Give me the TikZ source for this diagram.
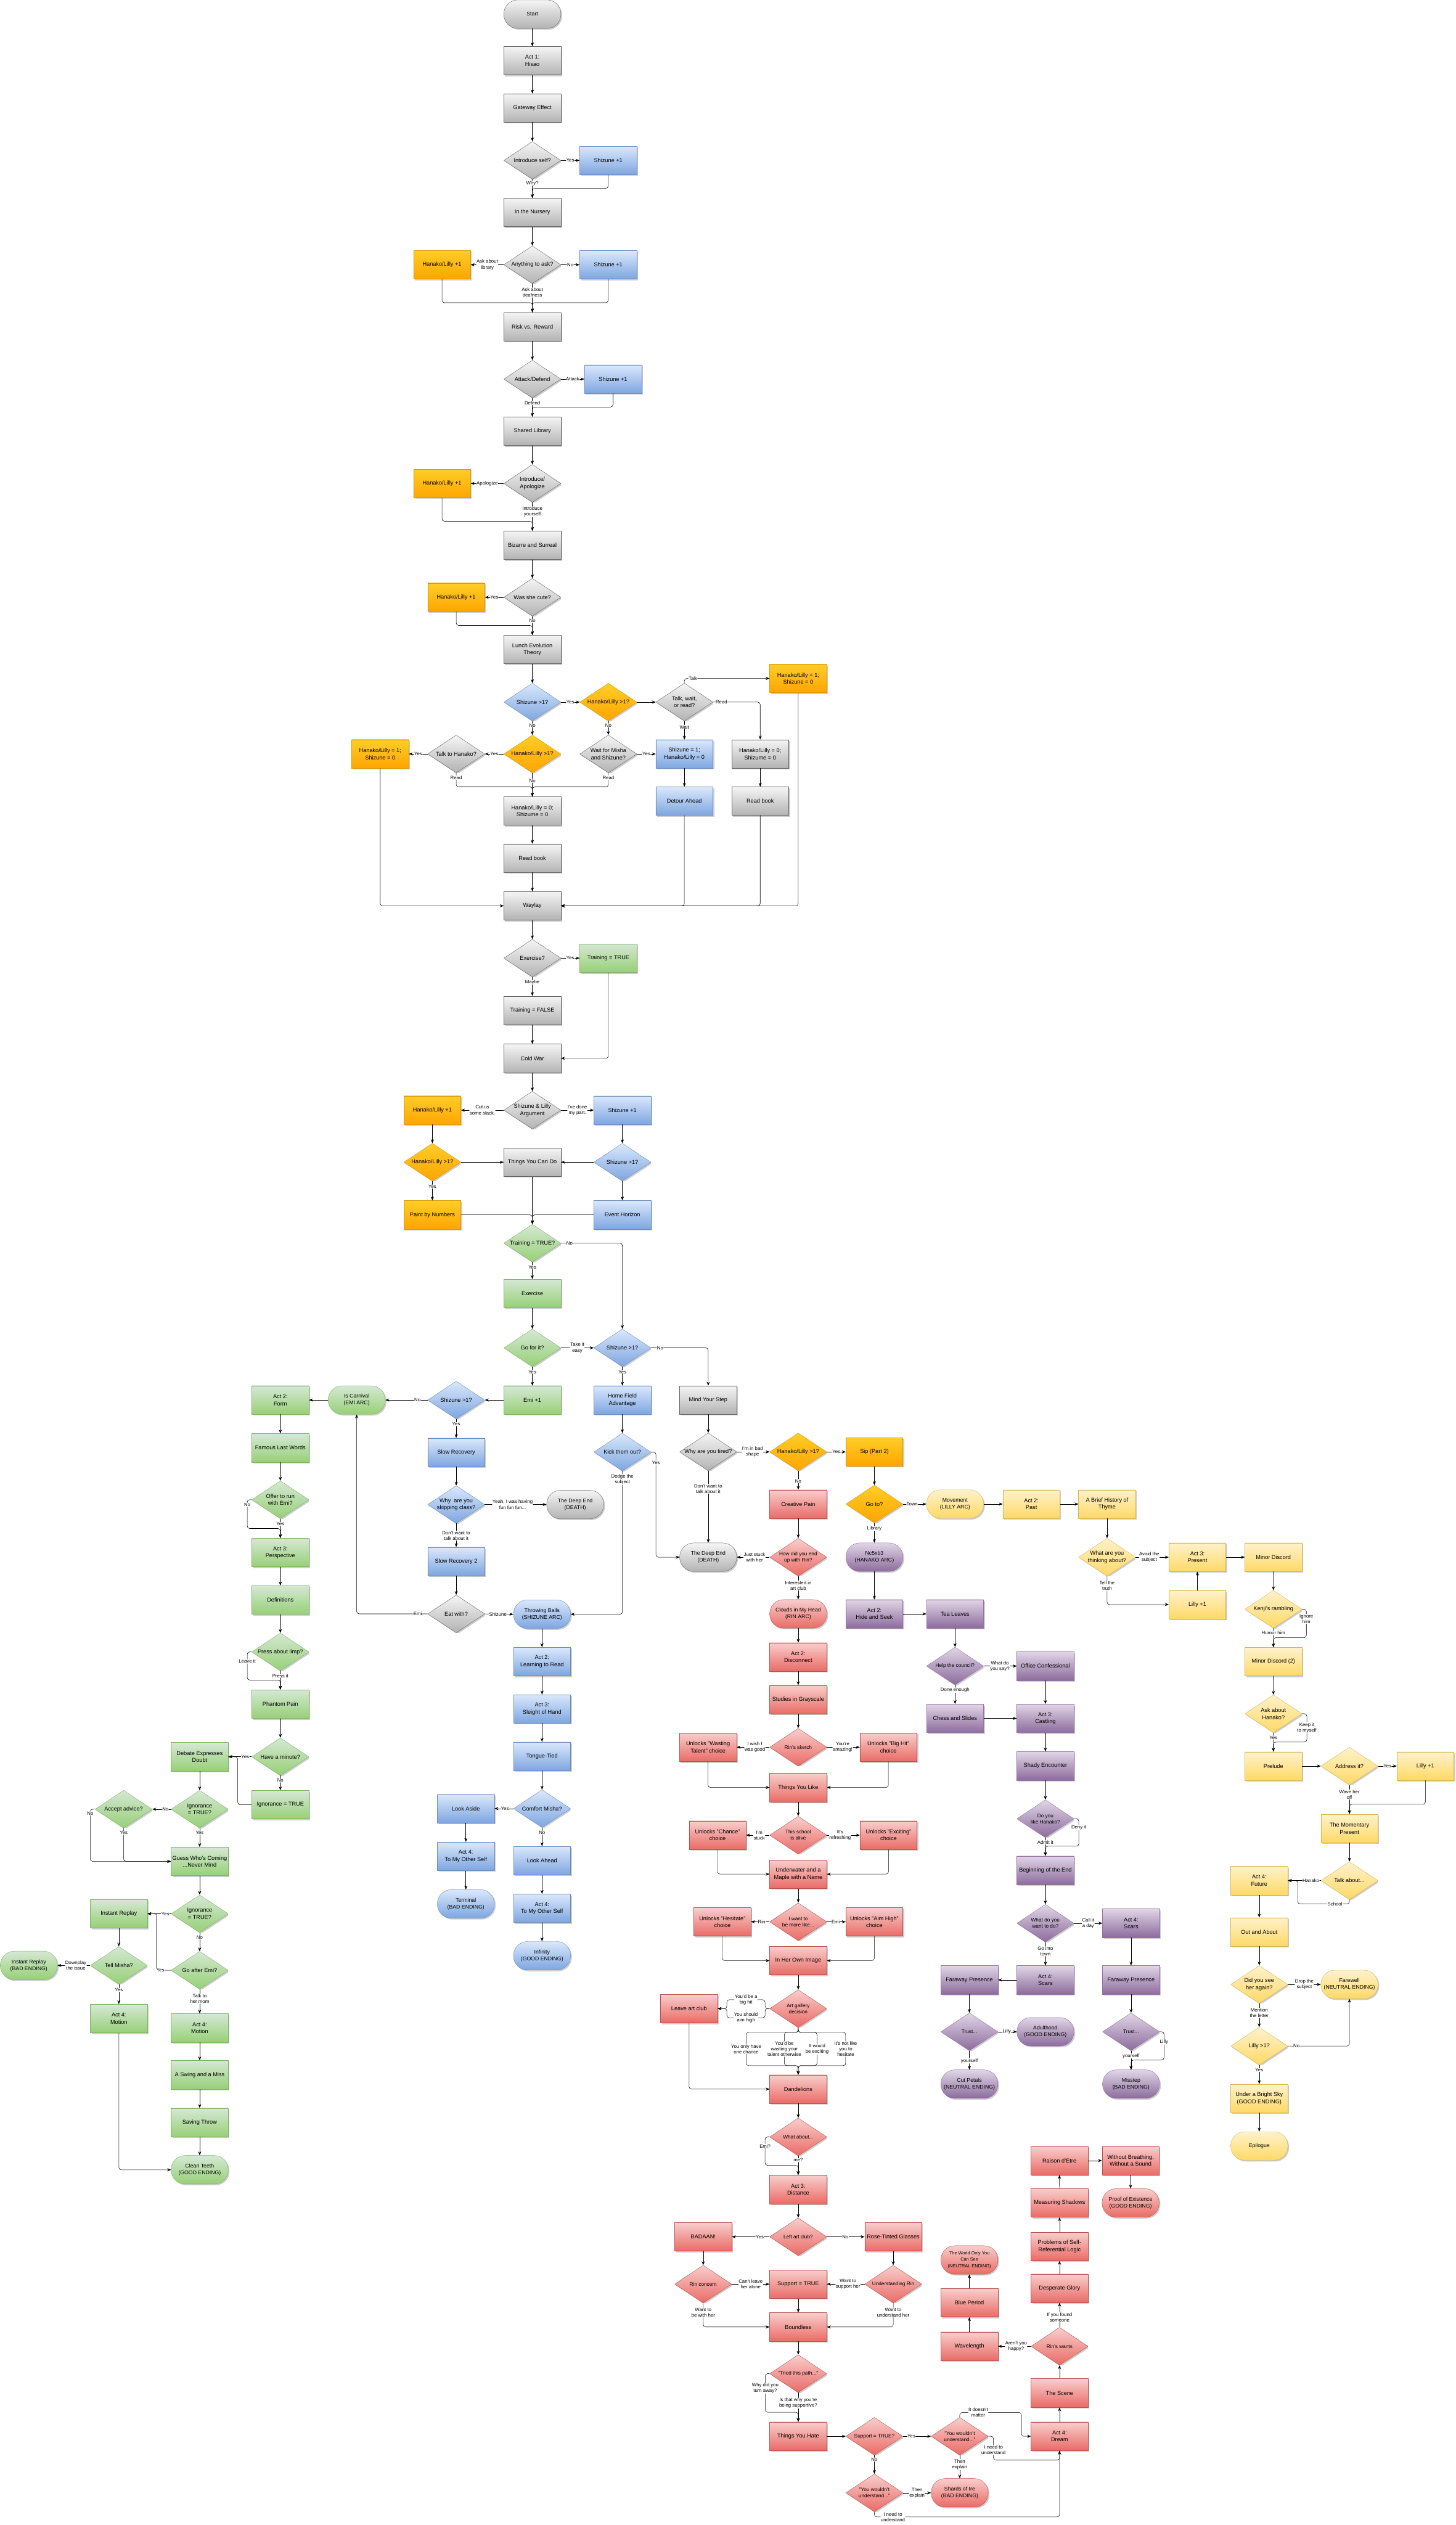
\documentclass[tikz,border=0pt]{standalone}
\usepackage{fontspec}
\setmainfont{Liberation Sans}
\usetikzlibrary{arrows.meta,shadows}
\definecolor{grayA}{HTML}{F5F5F5}\definecolor{grayB}{HTML}{B3B3B3}\definecolor{grayD}{HTML}{666666}
\definecolor{blueA}{HTML}{DAE8FC}\definecolor{blueB}{HTML}{7EA6E0}\definecolor{blueD}{HTML}{6C8EBF}
\definecolor{greenA}{HTML}{D5E8D4}\definecolor{greenB}{HTML}{97D077}\definecolor{greenD}{HTML}{82B366}
\definecolor{orangeA}{HTML}{FFCD28}\definecolor{orangeB}{HTML}{FFA500}\definecolor{orangeD}{HTML}{D79B00}
\definecolor{yelA}{HTML}{FFF2CC}\definecolor{yelB}{HTML}{FFD966}\definecolor{yelD}{HTML}{D6B656}
\definecolor{redA}{HTML}{F8CECC}\definecolor{redB}{HTML}{EA6B66}\definecolor{redD}{HTML}{B85450}
\definecolor{purA}{HTML}{E1D5E7}\definecolor{purB}{HTML}{8C6C9C}\definecolor{purD}{HTML}{9673A6}
\newcommand{\decshape}[3]{%
  \fill[black!20] ([shift={(0.8mm,-0.8mm)}]path picture bounding box.north) -- ([shift={(0.8mm,-0.8mm)}]path picture bounding box.east) -- ([shift={(0.8mm,-0.8mm)}]path picture bounding box.south) -- ([shift={(0.8mm,-0.8mm)}]path picture bounding box.west) -- cycle;
  \shade[top color=#1, bottom color=#2, draw=#3, line width=0.5pt] (path picture bounding box.north) -- (path picture bounding box.east) -- (path picture bounding box.south) -- (path picture bounding box.west) -- cycle;}

\begin{document}
\begin{tikzpicture}[
  x=1mm, y=-1mm,
  font=\fontsize{10}{12.5}\selectfont,
  block/.style={rectangle, minimum width=35.4mm, minimum height=17.7mm, inner sep=1pt, align=center, line width=0.5pt, drop shadow={shadow xshift=0.8mm, shadow yshift=-0.8mm, fill=black!20, opacity=1}},
  capsule/.style={block, rounded corners=8.6mm, inner sep=0.5pt, font=\fontsize{9.5}{12}\selectfont},
  decision/.style n args={3}{rectangle, minimum width=35.4mm, minimum height=23.4mm, inner sep=0pt, align=center, path picture={\decshape{#1}{#2}{#3}}},
  grayblock/.style={block, top color=grayA, bottom color=grayB, draw=grayD},
  blueblock/.style={block, top color=blueA, bottom color=blueB, draw=blueD},
  greenblock/.style={block, top color=greenA, bottom color=greenB, draw=greenD},
  orangeblock/.style={block, top color=orangeA, bottom color=orangeB, draw=orangeD},
  yellowblock/.style={block, top color=yelA, bottom color=yelB, draw=yelD},
  redblock/.style={block, top color=redA, bottom color=redB, draw=redD},
  purpleblock/.style={block, top color=purA, bottom color=purB, draw=purD},
  graycap/.style={capsule, top color=grayA, bottom color=grayB, draw=grayD},
  bluecap/.style={capsule, top color=blueA, bottom color=blueB, draw=blueD},
  greencap/.style={capsule, top color=greenA, bottom color=greenB, draw=greenD},
  yellowcap/.style={capsule, top color=yelA, bottom color=yelB, draw=yelD},
  redcap/.style={capsule, top color=redA, bottom color=redB, draw=redD},
  purplecap/.style={capsule, top color=purA, bottom color=purB, draw=purD},
  graydec/.style={decision={grayA}{grayB}{grayD}},
  bluedec/.style={decision={blueA}{blueB}{blueD}},
  greendec/.style={decision={greenA}{greenB}{greenD}},
  orangedec/.style={decision={orangeA}{orangeB}{orangeD}},
  yellowdec/.style={decision={yelA}{yelB}{yelD}},
  reddec/.style={decision={redA}{redB}{redD}, font=\fontsize{9}{11}\selectfont},
  purpledec/.style={decision={purA}{purB}{purD}, font=\fontsize{9}{11}\selectfont},
  arrow/.style={-{Stealth[length=2.4mm, width=1.9mm]}, line width=0.6pt, rounded corners=1.5mm},
  lbl/.style={fill=white, inner sep=0.5pt, font=\fontsize{8.5}{10}\selectfont, align=center},
]
\useasboundingbox (0,0) rectangle (904,1568);

\node[graycap] (c-start) at (330.6,8.8) {Start};
\node[grayblock] (c-act1) at (330.6,37.7) {Act 1:\\Hisao};
\node[grayblock] (c-gate) at (330.6,67) {Gateway Effect};
\node[graydec] (c-introq) at (330.6,99.6) {Introduce self?};
\node[blueblock] (c-shz1) at (377.7,99.6) {Shizune +1};
\node[grayblock] (c-nursery) at (330.6,131.9) {In the Nursery};
\node[graydec] (c-askq) at (330.6,164.4) {Anything to ask?};
\node[orangeblock] (c-hl1) at (274.5,164.4) {Hanako/Lilly +1};
\node[blueblock] (c-shz2) at (377.7,164.4) {Shizune +1};
\node[grayblock] (c-risk) at (330.6,202.9) {Risk vs. Reward};
\node[graydec] (c-attq) at (330.6,235.4) {Attack/Defend};
\node[blueblock] (c-shz3) at (380.7,235.4) {Shizune +1};
\node[grayblock] (c-library) at (330.6,267.7) {Shared Library};
\node[graydec] (c-apolq) at (330.6,300.2) {Introduce/\\Apologize};
\node[orangeblock] (c-hl2) at (274.5,300.2) {Hanako/Lilly +1};
\node[grayblock] (c-bizarre) at (330.6,338.6) {Bizarre and Surreal};
\node[graydec] (c-cuteq) at (330.6,370.9) {Was she cute?};
\node[orangeblock] (c-hl3) at (283.3,370.9) {Hanako/Lilly +1};
\node[grayblock] (c-lunch) at (330.6,403.3) {Lunch Evolution\\Theory};
\node[bluedec] (c-shzq1) at (330.6,436) {Shizune >1?};
\node[orangedec] (c-hlq1) at (377.8,436) {Hanako/Lilly >1?};
\node[graydec] (c-twrq) at (425,436) {Talk, wait,\\or read?};
\node[orangeblock] (c-hlset1) at (495.7,421.3) {Hanako/Lilly = 1;\\Shizune = 0};
\node[orangeblock] (c-hlset2) at (236.1,468.2) {Hanako/Lilly = 1;\\Shizune = 0};
\node[graydec] (c-talkq) at (283.3,468.2) {Talk to Hanako?};
\node[orangedec] (c-hlq2) at (330.6,468.2) {Hanako/Lilly >1?};
\node[graydec] (c-waitq) at (377.8,468.2) {Wait for Misha\\and Shizune?};
\node[blueblock] (c-shzset) at (425,468.2) {Shizune = 1;\\Hanako/Lilly = 0};
\node[grayblock] (c-zero1) at (472.1,468.2) {Hanako/Lilly = 0;\\Shizume = 0};
\node[blueblock] (c-detour) at (425,497.5) {Detour Ahead};
\node[grayblock] (c-read1) at (472.1,497.5) {Read book};
\node[grayblock] (c-zero2) at (330.6,503.6) {Hanako/Lilly = 0;\\Shizume = 0};
\node[grayblock] (c-read2) at (330.6,532.9) {Read book};
\node[grayblock] (c-waylay) at (330.6,562.5) {Waylay};
\node[graydec] (c-exq) at (330.6,595) {Exercise?};
\node[greenblock] (c-train1) at (377.8,595) {Training = TRUE};
\node[grayblock] (c-train0) at (330.6,627.4) {Training = FALSE};
\node[grayblock] (c-cold) at (330.6,657.2) {Cold War};
\node[graydec] (c-argq) at (330.6,689.4) {Shizune \& Lilly\\Argument};
\node[orangeblock] (c-hl4) at (268.5,689.4) {Hanako/Lilly +1};
\node[blueblock] (c-shz4) at (386.5,689.4) {Shizune +1};
\node[orangedec] (c-hlq3) at (268.5,721.7) {Hanako/Lilly >1?};
\node[grayblock] (c-things) at (330.6,721.7) {Things You Can Do};
\node[bluedec] (c-shzq2) at (386.5,721.7) {Shizune >1?};
\node[orangeblock] (h-paint) at (268.5,754.4) {Paint by Numbers};
\node[blueblock] (s-event) at (386.5,754.4) {Event Horizon};
\node[greendec] (c-trainq) at (330.6,772) {Training = TRUE?};
\node[greenblock] (e-exercise) at (330.6,803.2) {Exercise};
\node[greendec] (e-goq) at (330.6,837) {Go for it?};
\node[bluedec] (c-shzq3) at (386.5,837) {Shizune >1?};
\node[greenblock] (e-emi1) at (330.6,869.4) {Emi +1};
\node[blueblock] (s-home) at (386.5,869.4) {Home Field\\Advantage};
\node[grayblock] (c-mind) at (439.8,869.4) {Mind Your Step};

\node[bluedec] (e-shzq) at (283.3,869.4) {Shizune >1?};
\node[greencap] (e-arc) at (221.5,869.4) {Is Carnival\\(EMI ARC)};
\node[greenblock] (e-form) at (174.1,869.4) {Act 2:\\Form};
\node[greenblock] (e-famous) at (174.1,899.1) {Famous Last Words};
\node[greendec] (e-offerq) at (174.1,931.3) {Offer to run\\with Emi?};
\node[greenblock] (e-persp) at (174.1,964.1) {Act 3:\\Perspective};
\node[greenblock] (e-defs) at (174.1,993.5) {Definitions};
\node[greendec] (e-limpq) at (174.1,1025.8) {Press about limp?};
\node[greenblock] (e-phantom) at (174.1,1058.2) {Phantom Pain};
\node[greendec] (e-minuteq) at (174.1,1090.9) {Have a minute?};
\node[greenblock] (e-debate) at (124,1090.9) {Debate Expresses\\Doubt};
\node[greenblock] (e-ignset) at (174.1,1120.7) {Ignorance = TRUE};
\node[greendec] (e-ignq1) at (124,1123.5) {Ignorance\\= TRUE?};
\node[greendec] (e-adviceq) at (76.8,1123.5) {Accept advice?};
\node[greenblock] (e-guess) at (124,1155.9) {Guess Who's Coming\\...Never Mind};
\node[greendec] (e-ignq2) at (124,1188.4) {Ignorance\\= TRUE?};
\node[greenblock] (e-replay) at (73.8,1188.4) {Instant Replay};
\node[greendec] (e-goafterq) at (124,1223.5) {Go after Emi?};
\node[greendec] (e-mishaq) at (73.8,1220.5) {Tell Misha?};
\node[greencap] (e-bad) at (17.9,1220.5) {Instant Replay\\(BAD ENDING)};
\node[greenblock] (e-motion1) at (73.8,1253.5) {Act 4:\\Motion};
\node[greenblock] (e-motion2) at (124,1259.3) {Act 4:\\Motion};
\node[greenblock] (e-swing) at (124,1288.4) {A Swing and a Miss};
\node[greenblock] (e-saving) at (124,1318) {Saving Throw};
\node[greencap] (e-good) at (124,1347.4) {Clean Teeth\\(GOOD ENDING)};

\node[blueblock] (s-slow) at (283.3,901.9) {Slow Recovery};
\node[bluedec] (s-skipq) at (283.3,934.3) {Why \ are you\\skipping class?};
\node[graycap] (s-deep) at (357.2,934.3) {The Deep End\\(DEATH)};
\node[blueblock] (s-slow2) at (283.3,969.6) {Slow Recovery 2};
\node[graydec] (s-eatq) at (283.3,1002.2) {Eat with?};
\node[bluecap] (s-arc) at (336.6,1002.4) {Throwing Balls\\(SHIZUNE ARC)};
\node[blueblock] (s-read) at (336.6,1031.8) {Act 2:\\Learning to Read};
\node[blueblock] (s-sleight) at (336.6,1061.2) {Act 3:\\Sleight of Hand};
\node[blueblock] (s-tongue) at (336.6,1090.6) {Tongue-Tied};
\node[bluedec] (s-comfortq) at (336.6,1123.1) {Comfort Misha?};
\node[blueblock] (s-aside) at (289.3,1123.1) {Look Aside};
\node[blueblock] (s-other1) at (289.3,1152.7) {Act 4:\\To My Other Self};
\node[bluecap] (s-terminal) at (289.3,1182.3) {Terminal\\(BAD ENDING)};
\node[blueblock] (s-ahead) at (336.6,1155.4) {Look Ahead};
\node[blueblock] (s-other2) at (336.6,1185) {Act 4:\\To My Other Self};
\node[bluecap] (s-infinity) at (336.6,1214.5) {Infinity\\(GOOD ENDING)};
\node[bluedec] (s-kickq) at (386.5,901.7) {Kick them out?};

\node[graydec] (c-tiredq) at (439.8,901.6) {Why are you tired?};
\node[graycap] (c-deep) at (439.8,967) {The Deep End\\(DEATH)};
\node[orangedec] (c-hlq4) at (495.7,901.6) {Hanako/Lilly >1?};
\node[orangeblock] (h-sip) at (543,901.6) {Sip (Part 2)};
\node[redblock] (r-creative) at (495.7,934) {Creative Pain};
\node[orangedec] (c-gotoq) at (543,934) {Go to?};

\node[yellowcap] (l-arc) at (593.1,934) {Movement\\(LILLY ARC)};
\node[yellowblock] (l-past) at (640.5,934) {Act 2:\\Past};
\node[yellowblock] (l-thyme) at (687.5,934) {A Brief History of\\Thyme};
\node[yellowdec] (l-thinkq) at (687.5,967) {What are you\\thinking about?};
\node[yellowblock] (l-present) at (743.6,967) {Act 3:\\Present};
\node[yellowblock] (l-discord) at (790.8,967) {Minor Discord};
\node[yellowblock] (l-lilly1) at (743.6,996.4) {Lilly +1};
\node[yellowdec] (l-kenjiq) at (790.8,999.3) {Kenji's rambling};
\node[yellowblock] (l-discord2) at (790.8,1031.9) {Minor Discord (2)};
\node[yellowdec] (l-askq) at (790.8,1064.2) {Ask about\\Hanako?};
\node[yellowblock] (l-prelude) at (790.8,1096.7) {Prelude};
\node[yellowdec] (l-addressq) at (838,1096.7) {Address it?};
\node[yellowblock] (l-lilly2) at (885.2,1096.7) {Lilly +1};
\node[yellowblock] (l-moment) at (838,1135.4) {The Momentary\\Present};
\node[yellowdec] (l-talkq) at (838,1167.8) {Talk about...};
\node[yellowblock] (l-future) at (782,1167.8) {Act 4:\\Future};
\node[yellowblock] (l-out) at (782,1199.7) {Out and About};
\node[yellowdec] (l-seeq) at (782,1232.3) {Did you see\\her again?};
\node[yellowcap] (l-farewell) at (838,1232.3) {Farewell\\(NEUTRAL ENDING)};
\node[yellowdec] (l-lillyq) at (782,1270.6) {Lilly >1?};
\node[yellowblock] (l-sky) at (782,1303.1) {Under a Bright Sky\\(GOOD ENDING)};
\node[yellowcap] (l-epilogue) at (782,1332.6) {Epilogue};

\node[purplecap] (h-arc) at (543,967) {Nc5xb3\\(HANAKO ARC)};
\node[purpleblock] (h-hide) at (543,1002.2) {Act 2:\\Hide and Seek};
\node[purpleblock] (h-tea) at (593.1,1002.2) {Tea Leaves};
\node[purpledec] (h-councilq) at (593.1,1034.6) {Help the council?};
\node[purpleblock] (h-office) at (649.2,1034.6) {Office Confessional};
\node[purpleblock] (h-chess) at (593.1,1067.1) {Chess and Slides};
\node[purpleblock] (h-castling) at (649.2,1067.1) {Act 3:\\Castling};
\node[purpleblock] (h-shady) at (649.2,1096.6) {Shady Encounter};
\node[purpledec] (h-likeq) at (649.2,1129.4) {Do you\\like Hanako?};
\node[purpleblock] (h-begin) at (649.2,1161.4) {Beginning of the End};
\node[purpledec] (h-wantq) at (649.2,1194.3) {What do you\\want to do?};
\node[purpleblock] (h-scars1) at (702.4,1194.3) {Act 4:\\Scars};
\node[purpleblock] (h-scars2) at (649.2,1229.5) {Act 4:\\Scars};
\node[purpleblock] (h-far1) at (602,1229.5) {Faraway Presence};
\node[purpleblock] (h-far2) at (702.4,1229.5) {Faraway Presence};
\node[purpledec] (h-trustq1) at (602,1261.7) {Trust...};
\node[purplecap] (h-adult) at (649.2,1261.7) {Adulthood\\(GOOD ENDING)};
\node[purplecap] (h-cut) at (602,1294.2) {Cut Petals\\(NEUTRAL ENDING)};
\node[purpledec] (h-trustq2) at (702.4,1261.7) {Trust...};
\node[purplecap] (h-misstep) at (702.4,1294.2) {Misstep\\(BAD ENDING)};

\node[reddec] (r-howq) at (495.7,967) {How did you end\\up with Rin?};
\node[redcap] (r-arc) at (495.7,1002.2) {Clouds in My Head\\(RIN ARC)};
\node[redblock] (r-disconnect) at (495.7,1029) {Act 2:\\Disconnect};
\node[redblock] (r-studies) at (495.7,1055.4) {Studies in Grayscale};
\node[reddec] (r-sketchq) at (495.7,1085) {Rin's sketch};
\node[redblock] (r-wasting) at (439.7,1085) {Unlocks "Wasting\\Talent" choice};
\node[redblock] (r-bighit) at (551.7,1085) {Unlocks "Big Hit"\\choice};
\node[redblock] (r-like) at (495.7,1110) {Things You Like};
\node[reddec] (r-aliveq) at (495.7,1139.6) {This school\\is alive};
\node[redblock] (r-chance) at (445.6,1139.6) {Unlocks "Chance"\\choice};
\node[redblock] (r-exciting) at (551.8,1139.6) {Unlocks "Exciting"\\choice};
\node[redblock] (r-maple) at (495.7,1163.8) {Underwater and a\\Maple with a Name};
\node[reddec] (r-moreq) at (495.7,1193.4) {I want to\\be more like...};
\node[redblock] (r-hesitate) at (448.6,1193.4) {Unlocks "Hesitate"\\choice};
\node[redblock] (r-aimhigh) at (543,1193.4) {Unlocks "Aim High"\\choice};
\node[redblock] (r-image) at (495.7,1217.5) {In Her Own Image};
\node[reddec] (r-galleryq) at (495.7,1247.3) {Art gallery\\decision};
\node[redblock] (r-leave) at (427.9,1247.3) {Leave art club};
\node[redblock] (r-dandelions) at (495.7,1297.3) {Dandelions};
\node[reddec] (r-aboutq) at (495.7,1327) {What about...};
\node[redblock] (r-distance) at (495.7,1359.6) {Act 3:\\Distance};
\node[reddec] (r-leftq) at (495.7,1389) {Left art club?};
\node[redblock] (r-badaan) at (436.7,1389) {BADAAN!};
\node[redblock] (r-rose) at (554.7,1389) {Rose-Tinted Glasses};
\node[reddec] (r-concernq) at (436.7,1418.4) {Rin concern};
\node[redblock] (r-support) at (495.7,1418.4) {Support = TRUE};
\node[reddec] (r-underq) at (554.7,1418.4) {Understanding Rin};
\node[redblock] (r-boundless) at (495.7,1445) {Boundless};
\node[reddec] (r-triedq) at (495.7,1474) {"Tried this path..."};
\node[redblock] (r-hate) at (495.7,1512.9) {Things You Hate};
\node[reddec] (r-supportq) at (543,1512.9) {Support = TRUE?};
\node[reddec] (r-wouldq1) at (596,1512.9) {"You wouldn't\\understand..."};
\node[reddec] (r-wouldq2) at (543,1548) {"You wouldn't\\understand..."};
\node[redcap] (r-shards) at (596,1548) {Shards of Ire\\(BAD ENDING)};
\node[redblock] (r-dream) at (658,1512.9) {Act 4:\\Dream};
\node[redblock] (r-scene) at (658,1486) {The Scene};
\node[reddec] (r-wantsq) at (658,1457) {Rin's wants};
\node[redblock] (r-wave) at (602,1457) {Wavelength};
\node[redblock] (r-blue) at (602,1430) {Blue Period};
\node[redcap, font=\fontsize{8}{11}\selectfont] (r-world) at (602,1403.4) {The World Only You\\Can See\\(NEUTRAL ENDING)};
\node[redblock] (r-glory) at (658,1421) {Desperate Glory};
\node[redblock] (r-logic) at (658,1395) {Problems of Self-\\Referential Logic};
\node[redblock] (r-shadows) at (658,1368) {Measuring Shadows};
\node[redblock] (r-raison) at (657.9,1341.7) {Raison d'Etre};
\node[redblock] (r-breath) at (702.1,1341.7) {Without Breathing,\\Without a Sound};
\node[redcap] (r-proof) at (702.1,1368) {Proof of Existence\\(GOOD ENDING)};

\draw[arrow] (c-start) -- (c-act1);
\draw[arrow] (c-act1) -- (c-gate);
\draw[arrow] (c-gate) -- (c-introq);
\draw[arrow] (c-introq.east) -- node[lbl] {Yes} (c-shz1.west);
\draw[arrow] (c-introq.south) -- node[lbl, pos=0.2] {Why?} (c-nursery.north);
\draw[arrow] (c-shz1.south) |- ([yshift=6mm]c-nursery.north) -- (c-nursery.north);
\draw[arrow] (c-nursery) -- (c-askq);
\draw[arrow] (c-askq.west) -- node[lbl] {Ask about\\library} (c-hl1.east);
\draw[arrow] (c-askq.east) -- node[lbl] {No} (c-shz2.west);
\draw[arrow] (c-askq.south) -- node[lbl, pos=0.31] {Ask about\\deafness} (c-risk.north);
\draw[arrow] (c-hl1.south) |- ([yshift=6mm]c-risk.north) -- (c-risk.north);
\draw[arrow] (c-shz2.south) |- ([yshift=6mm]c-risk.north) -- (c-risk.north);
\draw[arrow] (c-risk) -- (c-attq);
\draw[arrow] (c-attq.east) -- node[lbl] {Attack} (c-shz3.west);
\draw[arrow] (c-attq.south) -- node[lbl, pos=0.27] {Defend} (c-library.north);
\draw[arrow] (c-shz3.south) |- ([yshift=6mm]c-library.north) -- (c-library.north);
\draw[arrow] (c-library) -- (c-apolq);
\draw[arrow] (c-apolq.west) -- node[lbl] {Apologize} (c-hl2.east);
\draw[arrow] (c-apolq.south) -- node[lbl, pos=0.33] {Introduce\\yourself} (c-bizarre.north);
\draw[arrow] (c-hl2.south) |- ([yshift=6mm]c-bizarre.north) -- (c-bizarre.north);
\draw[arrow] (c-bizarre) -- (c-cuteq);
\draw[arrow] (c-cuteq.west) -- node[lbl] {Yes} (c-hl3.east);
\draw[arrow] (c-cuteq.south) -- node[lbl, pos=0.25] {No} (c-lunch.north);
\draw[arrow] (c-hl3.south) |- ([yshift=6mm]c-lunch.north) -- (c-lunch.north);
\draw[arrow] (c-lunch) -- (c-shzq1);
\draw[arrow] (c-shzq1.east) -- node[lbl] {Yes} (c-hlq1.west);
\draw[arrow] (c-shzq1.south) -- node[lbl, pos=0.3] {No} (c-hlq2.north);
\draw[arrow] (c-hlq1.east) -- (c-twrq.west);
\draw[arrow] (c-hlq1.south) -- node[lbl, pos=0.3] {No} (c-waitq.north);
\draw[arrow] (c-twrq.north) |- node[lbl, pos=0.55] {Talk} (c-hlset1.west);
\draw[arrow] (c-twrq.east) -| node[lbl, pos=0.09] {Read} (c-zero1.north);
\draw[arrow] (c-twrq.south) -- node[lbl, pos=0.32] {Wait} (c-shzset.north);
\draw[arrow] (c-hlq2.west) -- node[lbl] {Yes} (c-talkq.east);
\draw[arrow] (c-talkq.west) -- node[lbl] {Yes} (c-hlset2.east);
\draw[arrow] (c-waitq.east) -- node[lbl] {Yes} (c-shzset.west);
\draw[arrow] (c-hlq2.south) -- node[lbl, pos=0.33] {No} (c-zero2.north);
\draw[arrow] (c-talkq.south) |- node[lbl, pos=0.17] {Read} ([yshift=6mm]c-zero2.north) -- (c-zero2.north);
\draw[arrow] (c-waitq.south) |- node[lbl, pos=0.17] {Read} ([yshift=6mm]c-zero2.north) -- (c-zero2.north);
\draw[arrow] (c-shzset) -- (c-detour);
\draw[arrow] (c-zero1) -- (c-read1);
\draw[arrow] (c-zero2) -- (c-read2);
\draw[arrow] (c-read2) -- (c-waylay);
\draw[arrow] (c-hlset2.south) |- (c-waylay.west);
\draw[arrow] (c-detour.south) |- (c-waylay.east);
\draw[arrow] (c-read1.south) |- (c-waylay.east);
\draw[arrow] (c-hlset1.south) |- (c-waylay.east);
\draw[arrow] (c-waylay) -- (c-exq);
\draw[arrow] (c-exq.east) -- node[lbl] {Yes} (c-train1.west);
\draw[arrow] (c-exq.south) -- node[lbl, pos=0.28] {Maybe} (c-train0.north);
\draw[arrow] (c-train1.south) |- (c-cold.east);
\draw[arrow] (c-train0) -- (c-cold);
\draw[arrow] (c-cold) -- (c-argq);
\draw[arrow] (c-argq.west) -- node[lbl] {Cut us\\some slack.} (c-hl4.east);
\draw[arrow] (c-argq.east) -- node[lbl] {I've done\\my part.} (c-shz4.west);
\draw[arrow] (c-hl4) -- (c-hlq3);
\draw[arrow] (c-shz4) -- (c-shzq2);
\draw[arrow] (c-hlq3.east) -- (c-things.west);
\draw[arrow] (c-shzq2.west) -- (c-things.east);
\draw[arrow] (c-hlq3.south) -- node[lbl, pos=0.28] {Yes} (h-paint.north);
\draw[arrow] (c-shzq2.south) -- (s-event.north);
\draw[arrow] (c-things.south) -- (c-trainq.north);
\draw[arrow] (h-paint.east) -| (c-trainq.north);
\draw[arrow] (s-event.west) -| (c-trainq.north);
\draw[arrow] (c-trainq.east) -| node[lbl, pos=0.07] {No} (c-shzq3.north);
\draw[arrow] (c-trainq.south) -- node[lbl, pos=0.3] {Yes} (e-exercise.north);
\draw[arrow] (e-exercise) -- (e-goq);
\draw[arrow] (e-goq.east) -- node[lbl] {Take it\\easy} (c-shzq3.west);
\draw[arrow] (e-goq.south) -- node[lbl, pos=0.27] {Yes} (e-emi1.north);
\draw[arrow] (c-shzq3.east) -| node[lbl, pos=0.08] {No} (c-mind.north);
\draw[arrow] (c-shzq3.south) -- node[lbl, pos=0.27] {Yes} (s-home.north);

\draw[arrow] (e-emi1.west) -- (e-shzq.east);
\draw[arrow] (e-shzq.west) -- node[lbl, pos=0.24] {No} (e-arc.east);
\draw[arrow] (e-shzq.south) -- node[lbl, pos=0.27] {Yes} (s-slow.north);
\draw[arrow] (e-arc.west) -- (e-form.east);
\draw[arrow] (e-form) -- (e-famous);
\draw[arrow] (e-famous) -- (e-offerq);
\draw[arrow] (e-offerq.south) -- node[lbl, pos=0.27] {Yes} (e-persp.north);
\draw[arrow] (e-offerq.west) -- ++(-2.8,0) |- node[lbl, pos=0.09] {No} ([yshift=6mm]e-persp.north) -- (e-persp.north);
\draw[arrow] (e-persp) -- (e-defs);
\draw[arrow] (e-defs) -- (e-limpq);
\draw[arrow] (e-limpq.south) -- node[lbl, pos=0.27] {Press it} (e-phantom.north);
\draw[arrow] (e-limpq.west) -- ++(-2.8,0) |- node[lbl, pos=0.17] {Leave it} ([yshift=6mm]e-phantom.north) -- (e-phantom.north);
\draw[arrow] (e-phantom) -- (e-minuteq);
\draw[arrow] (e-minuteq.west) -- node[lbl, pos=0.28] {Yes} (e-debate.east);
\draw[arrow] (e-minuteq.south) -- node[lbl, pos=0.32] {No} (e-ignset.north);
\draw[arrow] (e-ignset.west) -- ++(-8.7,0) |- (e-debate.east);
\draw[arrow] (e-debate) -- (e-ignq1);
\draw[arrow] (e-ignq1.west) -- node[lbl, pos=0.3] {No} (e-adviceq.east);
\draw[arrow] (e-ignq1.south) -- node[lbl, pos=0.24] {Yes} (e-guess.north);
\draw[arrow] (e-adviceq.west) -- ++(-3,0) |- node[lbl, pos=0.04] {No} (e-guess.west);
\draw[arrow] (e-adviceq.south) |- node[lbl, pos=0.07] {Yes} (e-guess.west);
\draw[arrow] (e-guess) -- (e-ignq2);
\draw[arrow] (e-ignq2.west) -- node[lbl, pos=0.24] {Yes} (e-replay.east);
\draw[arrow] (e-ignq2.south) -- node[lbl, pos=0.25] {No} (e-goafterq.north);
\draw[arrow] (e-goafterq.west) -- node[lbl, pos=0.75] {Yes} ++(-8.8,0) |- (e-replay.east);
\draw[arrow] (e-goafterq.south) -- node[lbl, pos=0.39] {Talk to\\her mom} (e-motion2.north);
\draw[arrow] (e-replay) -- (e-mishaq);
\draw[arrow] (e-mishaq.west) -- node[lbl, pos=0.44] {Downplay\\the issue} (e-bad.east);
\draw[arrow] (e-mishaq.south) -- node[lbl, pos=0.27] {Yes} (e-motion1.north);
\draw[arrow] (e-motion1.south) |- (e-good.west);
\draw[arrow] (e-motion2) -- (e-swing);
\draw[arrow] (e-swing) -- (e-saving);
\draw[arrow] (e-saving) -- (e-good);

\draw[arrow] (s-slow) -- (s-skipq);
\draw[arrow] (s-skipq.east) -- node[lbl, pos=0.45] {Yeah, I was having\\fun fun fun...} (s-deep.west);
\draw[arrow] (s-skipq.south) -- node[lbl, pos=0.52] {Don't want to\\talk about it} (s-slow2.north);
\draw[arrow] (s-slow2) -- (s-eatq);
\draw[arrow] (s-eatq.west) -| node[lbl, pos=0.07] {Emi} (e-arc.south);
\draw[arrow] (s-eatq.east) -- node[lbl, pos=0.46] {Shizune} (s-arc.west);
\draw[arrow] (s-arc) -- (s-read);
\draw[arrow] (s-read) -- (s-sleight);
\draw[arrow] (s-sleight) -- (s-tongue);
\draw[arrow] (s-tongue) -- (s-comfortq);
\draw[arrow] (s-comfortq.west) -- node[lbl, pos=0.45] {Yes} (s-aside.east);
\draw[arrow] (s-comfortq.south) -- node[lbl, pos=0.27] {No} (s-ahead.north);
\draw[arrow] (s-aside) -- (s-other1);
\draw[arrow] (s-other1) -- (s-terminal);
\draw[arrow] (s-ahead) -- (s-other2);
\draw[arrow] (s-other2) -- (s-infinity);
\draw[arrow] (s-home) -- (s-kickq);
\draw[arrow] (s-kickq.south) |- node[lbl, pos=0.03] {Dodge the\\subject} (s-arc.east);
\draw[arrow] (s-kickq.east) -- ++(3.1,0) |- node[lbl, pos=0.05] {Yes} (c-deep.west);

\draw[arrow] (c-mind) -- (c-tiredq);
\draw[arrow] (c-tiredq.south) -- node[lbl, pos=0.25] {Don't want to\\talk about it} (c-deep.north);
\draw[arrow] (c-tiredq.east) -- node[lbl, pos=0.48] {I'm in bad\\shape} (c-hlq4.west);
\draw[arrow] (c-hlq4.east) -- node[lbl] {Yes} (h-sip.west);
\draw[arrow] (c-hlq4.south) -- node[lbl, pos=0.54] {No} (r-creative.north);
\draw[arrow] (h-sip) -- (c-gotoq);
\draw[arrow] (c-gotoq.east) -- node[lbl, pos=0.39] {Town} (l-arc.west);
\draw[arrow] (c-gotoq.south) -- node[lbl, pos=0.28] {Library} (h-arc.north);

\draw[arrow] (l-arc) -- (l-past);
\draw[arrow] (l-past) -- (l-thyme);
\draw[arrow] (l-thyme) -- (l-thinkq);
\draw[arrow] (l-thinkq.east) -- node[lbl, pos=0.41] {Avoid the\\subject} (l-present.west);
\draw[arrow] (l-thinkq.south) |- node[lbl, pos=0.17] {Tell the\\truth} (l-lilly1.west);
\draw[arrow] (l-lilly1) -- (l-present);
\draw[arrow] (l-present) -- (l-discord);
\draw[arrow] (l-discord) -- (l-kenjiq);
\draw[arrow] (l-kenjiq.south) -- node[lbl, pos=0.25] {Humor him} (l-discord2.north);
\draw[arrow] (l-kenjiq.east) -- ++(2.7,0) |- node[lbl, pos=0.17] {Ignore\\him} ([yshift=6mm]l-discord2.north) -- (l-discord2.north);
\draw[arrow] (l-discord2) -- (l-askq);
\draw[arrow] (l-askq.south) -- node[lbl, pos=0.26] {Yes} (l-prelude.north);
\draw[arrow] (l-askq.east) -- ++(3,0) |- node[lbl, pos=0.25] {Keep it\\to myself} ([yshift=6mm]l-prelude.north) -- (l-prelude.north);
\draw[arrow] (l-prelude) -- (l-addressq);
\draw[arrow] (l-addressq.east) -- node[lbl] {Yes} (l-lilly2.west);
\draw[arrow] (l-addressq.south) -- node[lbl, pos=0.33] {Wave her\\off} (l-moment.north);
\draw[arrow] (l-lilly2.south) |- ([yshift=6mm]l-moment.north) -- (l-moment.north);
\draw[arrow] (l-moment) -- (l-talkq);
\draw[arrow] (l-talkq.west) -- node[lbl, pos=0.3] {Hanako} (l-future.east);
\draw[arrow] (l-talkq.south) -- ++(0,2.7) -| node[lbl, pos=0.14] {School} ([xshift=6.1mm]l-future.east) -- (l-future.east);
\draw[arrow] (l-future) -- (l-out);
\draw[arrow] (l-out) -- (l-seeq);
\draw[arrow] (l-seeq.east) -- node[lbl] {Drop the\\subject} (l-farewell.west);
\draw[arrow] (l-seeq.south) -- node[lbl, pos=0.4] {Mention\\the letter} (l-lillyq.north);
\draw[arrow] (l-lillyq.east) -| node[lbl, pos=0.07] {No} (l-farewell.south);
\draw[arrow] (l-lillyq.south) -- node[lbl, pos=0.26] {Yes} (l-sky.north);
\draw[arrow] (l-sky) -- (l-epilogue);

\draw[arrow] (h-arc) -- (h-hide);
\draw[arrow] (h-hide) -- (h-tea);
\draw[arrow] (h-tea) -- (h-councilq);
\draw[arrow] (h-councilq.east) -- node[lbl, pos=0.49] {What do\\you say?} (h-office.west);
\draw[arrow] (h-councilq.south) -- node[lbl, pos=0.27] {Done enough} (h-chess.north);
\draw[arrow] (h-chess) -- (h-castling);
\draw[arrow] (h-office) -- (h-castling);
\draw[arrow] (h-castling) -- (h-shady);
\draw[arrow] (h-shady) -- (h-likeq);
\draw[arrow] (h-likeq.south) -- node[lbl, pos=0.26] {Admit it} (h-begin.north);
\draw[arrow] (h-likeq.east) -- ++(3,0) |- node[lbl, pos=0.16] {Deny it} ([yshift=6mm]h-begin.north) -- (h-begin.north);
\draw[arrow] (h-begin) -- (h-wantq);
\draw[arrow] (h-wantq.east) -- node[lbl] {Call it\\a day} (h-scars1.west);
\draw[arrow] (h-wantq.south) -- node[lbl, pos=0.39] {Go into\\town} (h-scars2.north);
\draw[arrow] (h-scars2) -- (h-far1);
\draw[arrow] (h-far1) -- (h-trustq1);
\draw[arrow] (h-trustq1.east) -- node[lbl, pos=0.47] {Lilly} (h-adult.west);
\draw[arrow] (h-trustq1.south) -- node[lbl, pos=0.54] {yourself} (h-cut.north);
\draw[arrow] (h-scars1) -- (h-far2);
\draw[arrow] (h-far2) -- (h-trustq2);
\draw[arrow] (h-trustq2.south) -- node[lbl, pos=0.28] {yourself} (h-misstep.north);
\draw[arrow] (h-trustq2.east) -- ++(2.7,0) |- node[lbl, pos=0.18] {Lilly} ([yshift=6mm]h-misstep.north) -- (h-misstep.north);

\draw[arrow] (r-creative) -- (r-howq);
\draw[arrow] (r-howq.west) -- node[lbl, pos=0.46] {Just stuck\\with her} (c-deep.east);
\draw[arrow] (r-howq.south) -- node[lbl, pos=0.4] {Interested in\\art club} (r-arc.north);
\draw[arrow] (r-arc) -- (r-disconnect);
\draw[arrow] (r-disconnect) -- (r-studies);
\draw[arrow] (r-studies) -- (r-sketchq);
\draw[arrow] (r-sketchq.west) -- node[lbl, pos=0.45] {I wish I\\was good} (r-wasting.east);
\draw[arrow] (r-sketchq.east) -- node[lbl, pos=0.48] {You're\\amazing!} (r-bighit.west);
\draw[arrow] (r-wasting.south) |- (r-like.west);
\draw[arrow] (r-bighit.south) |- (r-like.east);
\draw[arrow] (r-like) -- (r-aliveq);
\draw[arrow] (r-aliveq.west) -- node[lbl, pos=0.44] {I'm\\stuck} (r-chance.east);
\draw[arrow] (r-aliveq.east) -- node[lbl, pos=0.4] {It's\\refreshing} (r-exciting.west);
\draw[arrow] (r-chance.south) |- (r-maple.west);
\draw[arrow] (r-exciting.south) |- (r-maple.east);
\draw[arrow] (r-maple) -- (r-moreq);
\draw[arrow] (r-moreq.west) -- node[lbl, pos=0.43] {Rin} (r-hesitate.east);
\draw[arrow] (r-moreq.east) -- node[lbl, pos=0.47] {Emi} (r-aimhigh.west);
\draw[arrow] (r-hesitate.south) |- (r-image.west);
\draw[arrow] (r-aimhigh.south) |- (r-image.east);
\draw[arrow] (r-image) -- (r-galleryq);
\draw[arrow] (r-galleryq.west) -- ++(-2.8,0) |- node[lbl, pos=0.75] {You'd be a\\big hit} ([xshift=5.7mm, yshift=5.5mm]r-leave.east) |- (r-leave.east);
\draw[arrow] (r-galleryq.west) -- ++(-2.8,0) |- node[lbl, pos=0.75] {You should\\aim high} ([xshift=5.7mm, yshift=-5.7mm]r-leave.east) |- (r-leave.east);
\draw[arrow] (r-galleryq.south) -- ++(0,3) -| node[lbl, pos=0.75] {You only have\\one chance} ([xshift=-32.3mm, yshift=5.65mm]r-dandelions.north) -| (r-dandelions.north);
\draw[arrow] (r-galleryq.south) -- ++(0,3) -| node[lbl, pos=0.75] {You'd be\\wasting your\\talent otherwise} ([xshift=-8.6mm, yshift=5.65mm]r-dandelions.north) -| (r-dandelions.north);
\draw[arrow] (r-galleryq.south) -- ++(0,3) -| node[lbl, pos=0.75] {It would\\be exciting} ([xshift=11.7mm, yshift=5.65mm]r-dandelions.north) -| (r-dandelions.north);
\draw[arrow] (r-galleryq.south) -- ++(0,3) -| node[lbl, pos=0.75] {It's not like\\you to\\hesitate} ([xshift=29.5mm, yshift=5.65mm]r-dandelions.north) -| (r-dandelions.north);
\draw[arrow] (r-leave.south) |- (r-dandelions.west);
\draw[arrow] (r-dandelions) -- (r-aboutq);
\draw[arrow] (r-aboutq.south) -- node[lbl, pos=0.22] {me?} (r-distance.north);
\draw[arrow] (r-aboutq.west) -- ++(-2.8,0) |- node[lbl, pos=0.16] {Emi?} ([yshift=6mm]r-distance.north) -- (r-distance.north);
\draw[arrow] (r-distance) -- (r-leftq);
\draw[arrow] (r-leftq.west) -- node[lbl, pos=0.26] {Yes} (r-badaan.east);
\draw[arrow] (r-leftq.east) -- node[lbl, pos=0.49] {No} (r-rose.west);
\draw[arrow] (r-badaan) -- (r-concernq);
\draw[arrow] (r-rose) -- (r-underq);
\draw[arrow] (r-concernq.east) -- node[lbl] {Can't leave\\her alone} (r-support.west);
\draw[arrow] (r-underq.west) -- node[lbl, pos=0.44] {Want to\\support her} (r-support.east);
\draw[arrow] (r-concernq.south) |- node[lbl, pos=0.2] {Want to\\be with her} (r-boundless.west);
\draw[arrow] (r-underq.south) |- node[lbl, pos=0.2] {Want to\\understand her} (r-boundless.east);
\draw[arrow] (r-support) -- (r-boundless);
\draw[arrow] (r-boundless) -- (r-triedq);
\draw[arrow] (r-triedq.south) -- node[lbl, pos=0.36] {Is that why you're\\being supportive?} (r-hate.north);
\draw[arrow] (r-triedq.west) -- ++(-2.7,0) |- node[lbl, pos=0.19] {Why did you\\turn away?} ([yshift=6mm]r-hate.north) -- (r-hate.north);
\draw[arrow] (r-hate) -- (r-supportq);
\draw[arrow] (r-supportq.east) -- node[lbl, pos=0.3] {Yes} (r-wouldq1.west);
\draw[arrow] (r-supportq.south) -- node[lbl, pos=0.23] {No} (r-wouldq2.north);
\draw[arrow] (r-wouldq1.north) |- node[lbl, pos=0.65] {It doesn't\\matter} ([xshift=-5.9mm, yshift=14.8mm]r-dream.west) |- (r-dream.west);
\draw[arrow] (r-wouldq1.east) -- ++(3.2,0) |- node[lbl, pos=0.29] {I need to\\understand} ([yshift=-5.85mm]r-dream.south) -- (r-dream.south);
\draw[arrow] (r-wouldq1.south) -- node[lbl, pos=0.4] {Then\\explain} (r-shards.north);
\draw[arrow] (r-wouldq2.east) -- node[lbl] {Then\\explain} (r-shards.west);
\draw[arrow] (r-wouldq2.south) |- node[lbl, pos=0.55] {I need to\\understand} ([yshift=-41.15mm]r-dream.south) -- (r-dream.south);
\draw[arrow] (r-dream) -- (r-scene);
\draw[arrow] (r-scene) -- (r-wantsq);
\draw[arrow] (r-wantsq.west) -- node[lbl, pos=0.45] {Aren't you\\happy?} (r-wave.east);
\draw[arrow] (r-wantsq.north) -- node[lbl, pos=0.41] {If you found\\someone} (r-glory.south);
\draw[arrow] (r-glory) -- (r-logic);
\draw[arrow] (r-logic) -- (r-shadows);
\draw[arrow] (r-shadows) -- (r-raison);
\draw[arrow] (r-raison) -- (r-breath);
\draw[arrow] (r-breath) -- (r-proof);
\draw[arrow] (r-wave) -- (r-blue);
\draw[arrow] (r-blue) -- (r-world);

\end{tikzpicture}
\end{document}
